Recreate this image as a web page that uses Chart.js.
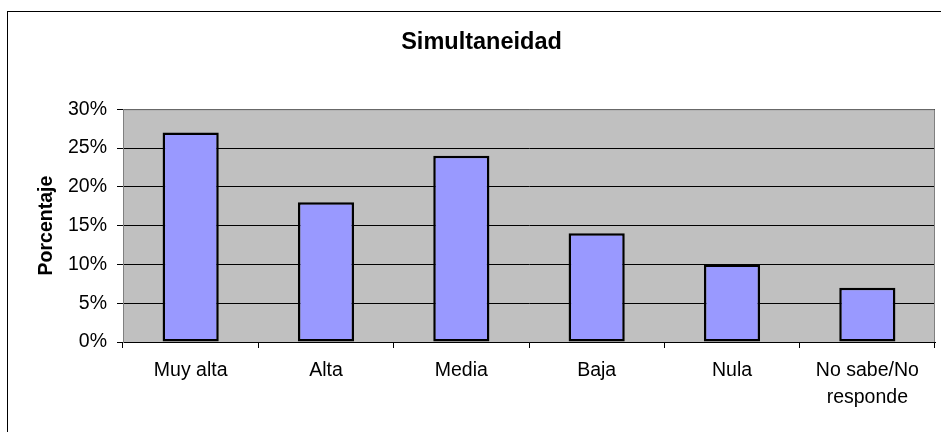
<!DOCTYPE html>
<html>
<head>
<meta charset="utf-8">
<script src="https://cdn.jsdelivr.net/npm/chart.js@4"></script>
<style>
html,body{margin:0;padding:0;background:#fff;}
#wrap{width:941px;height:432px;position:relative;}
</style>
</head>
<body>
<div id="wrap"><canvas id="c" width="941" height="432"></canvas></div>
<script>
const categories = ["Muy alta", "Alta", "Media", "Baja", "Nula", ["No sabe/No", "responde"]];
const values = [27, 18, 24, 14, 10, 7];
const yTicks = { min: 0, max: 30, step: 5 };
const chartTitle = "Simultaneidad";
const yTitle = "Porcentaje";

const FONT = "'Liberation Sans', Arial, sans-serif";

const decor = {
  id: 'decor',
  beforeDraw(chart) {
    const {ctx, chartArea: a} = chart;
    ctx.save();
    ctx.fillStyle = '#fff';
    ctx.fillRect(0, 0, chart.width, chart.height);
    ctx.strokeStyle = '#000';
    ctx.lineWidth = 1;
    ctx.strokeRect(7.5, 11.5, 2000, 2000);
    ctx.fillStyle = '#C0C0C0';
    ctx.fillRect(a.left, a.top, a.right - a.left, a.bottom - a.top);
    ctx.restore();
  },
  beforeDatasetsDraw(chart) {
    const {ctx, chartArea: a} = chart;
    ctx.save();
    ctx.strokeStyle = '#808080';
    ctx.lineWidth = 1;
    ctx.beginPath();
    ctx.moveTo(a.left + 0.5, a.bottom);
    ctx.lineTo(a.left + 0.5, a.top + 0.5);
    ctx.lineTo(a.right - 0.5, a.top + 0.5);
    ctx.lineTo(a.right - 0.5, a.bottom);
    ctx.stroke();
    ctx.restore();
  }
};

new Chart(document.getElementById('c'), {
  type: 'bar',
  data: {
    labels: categories,
    datasets: [{
      data: values,
      backgroundColor: '#9999FF',
      borderColor: '#000',
      borderWidth: 2.5,
      borderSkipped: false,
      barPercentage: 0.415,
      categoryPercentage: 1.0
    }]
  },
  options: {
    responsive: false,
    animation: false,
    devicePixelRatio: 1,
    layout: { padding: { left: 28, right: 6, top: 0, bottom: 0 } },
    plugins: {
      legend: { display: false },
      tooltip: { enabled: false },
      title: {
        display: true,
        text: chartTitle,
        color: '#000',
        font: { family: FONT, size: 23.5, weight: 'bold', lineHeight: 1.2 },
        padding: { top: 28, bottom: 53 }
      }
    },
    scales: {
      x: {
        offset: true,
        afterFit(s) { s.height = 90; },
        grid: {
          display: true,
          drawOnChartArea: false,
          drawTicks: true,
          tickLength: 6,
          tickColor: '#000',
          offset: true
        },
        border: { display: true, color: '#000', width: 1 },
        ticks: {
          color: '#000',
          padding: 9,
          maxRotation: 0,
          autoSkip: false,
          font: { family: FONT, size: 19.5, lineHeight: 1.38 }
        }
      },
      y: {
        min: yTicks.min,
        max: yTicks.max,
        afterFit(s) { s.width = 95; },
        grid: {
          color: '#000',
          lineWidth: 1,
          drawTicks: true,
          tickLength: 6,
          tickColor: '#000'
        },
        border: { display: true, color: '#808080', width: 1 },
        ticks: {
          stepSize: yTicks.step,
          color: '#000',
          padding: 10,
          font: { family: FONT, size: 19.5 },
          callback: v => v + '%'
        },
        title: {
          display: true,
          text: yTitle,
          color: '#000',
          font: { family: FONT, size: 19.5, weight: 'bold', lineHeight: 1.2 },
          padding: { top: 7, bottom: 0 }
        }
      }
    }
  },
  plugins: [decor]
});
</script>
</body>
</html>
